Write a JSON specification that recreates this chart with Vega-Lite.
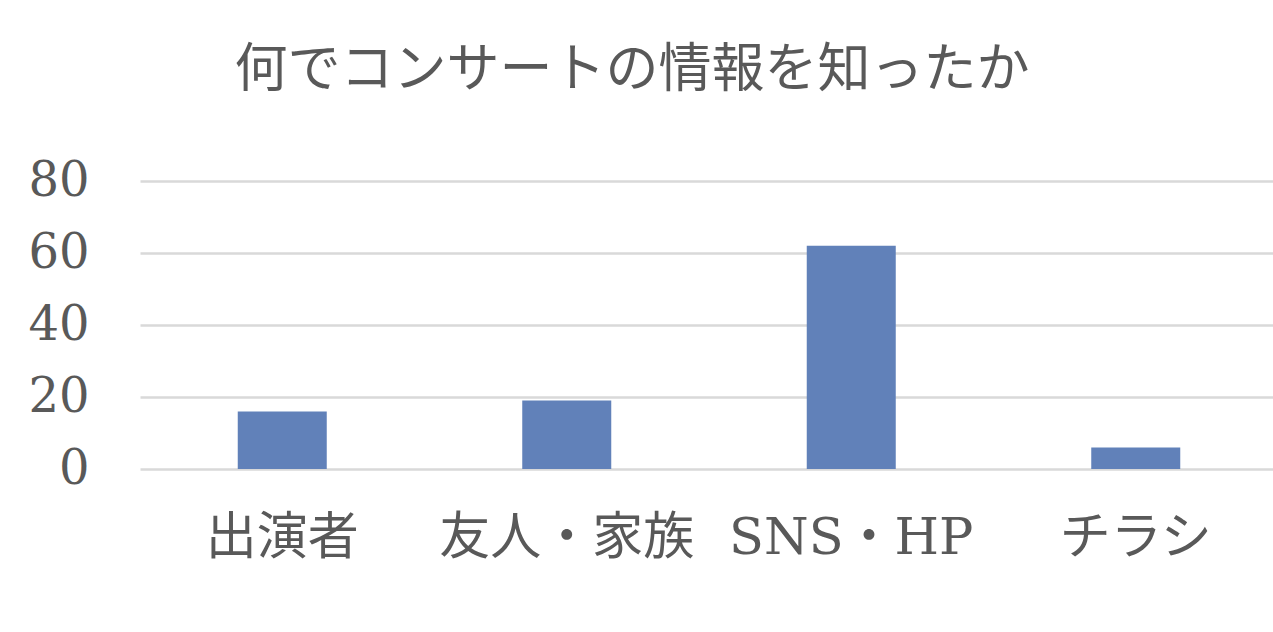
{
  "$schema": "https://vega.github.io/schema/vega-lite/v6.json",
  "autosize": "none",
  "width": 1138,
  "height": 288,
  "padding": {"left": 140, "top": 181, "right": 0, "bottom": 163},
  "background": "white",
  "title": {
    "text": "何でコンサートの情報を知ったか",
    "font": "Noto Sans CJK JP",
    "fontSize": 53,
    "fontWeight": "normal",
    "color": "#595959",
    "anchor": "middle",
    "frame": "group",
    "dx": -77,
    "baseline": "alphabetic",
    "offset": 17
  },
  "data": {
    "values": [
      {"source": "出演者", "count": 16},
      {"source": "友人・家族", "count": 19},
      {"source": "SNS・HP", "count": 62},
      {"source": "チラシ", "count": 6}
    ]
  },
  "mark": {"type": "bar", "color": "#6181b9", "width": 89},
  "encoding": {
    "x": {
      "field": "source",
      "type": "nominal",
      "sort": null,
      "title": null,
      "scale": {"paddingInner": 0, "paddingOuter": 0},
      "axis": {
        "labelAngle": 0,
        "labelFont": "DejaVu Serif, Noto Sans CJK JP",
        "labelFontSize": 51,
        "labelColor": "#595959",
        "labelPadding": 44,
        "labelBaseline": "top",
        "labelLimit": 0,
        "labelOverlap": false,
        "ticks": false,
        "domain": false,
        "grid": false
      }
    },
    "y": {
      "field": "count",
      "type": "quantitative",
      "title": null,
      "scale": {"domain": [0, 80], "nice": false},
      "axis": {
        "values": [0, 20, 40, 60, 80],
        "labelFont": "DejaVu Serif",
        "labelFontSize": 48,
        "labelColor": "#595959",
        "labelPadding": 51,
        "ticks": false,
        "domain": false,
        "grid": true,
        "gridColor": "#d9d9d9",
        "gridWidth": 2.5
      }
    }
  },
  "config": {"view": {"stroke": null}}
}
